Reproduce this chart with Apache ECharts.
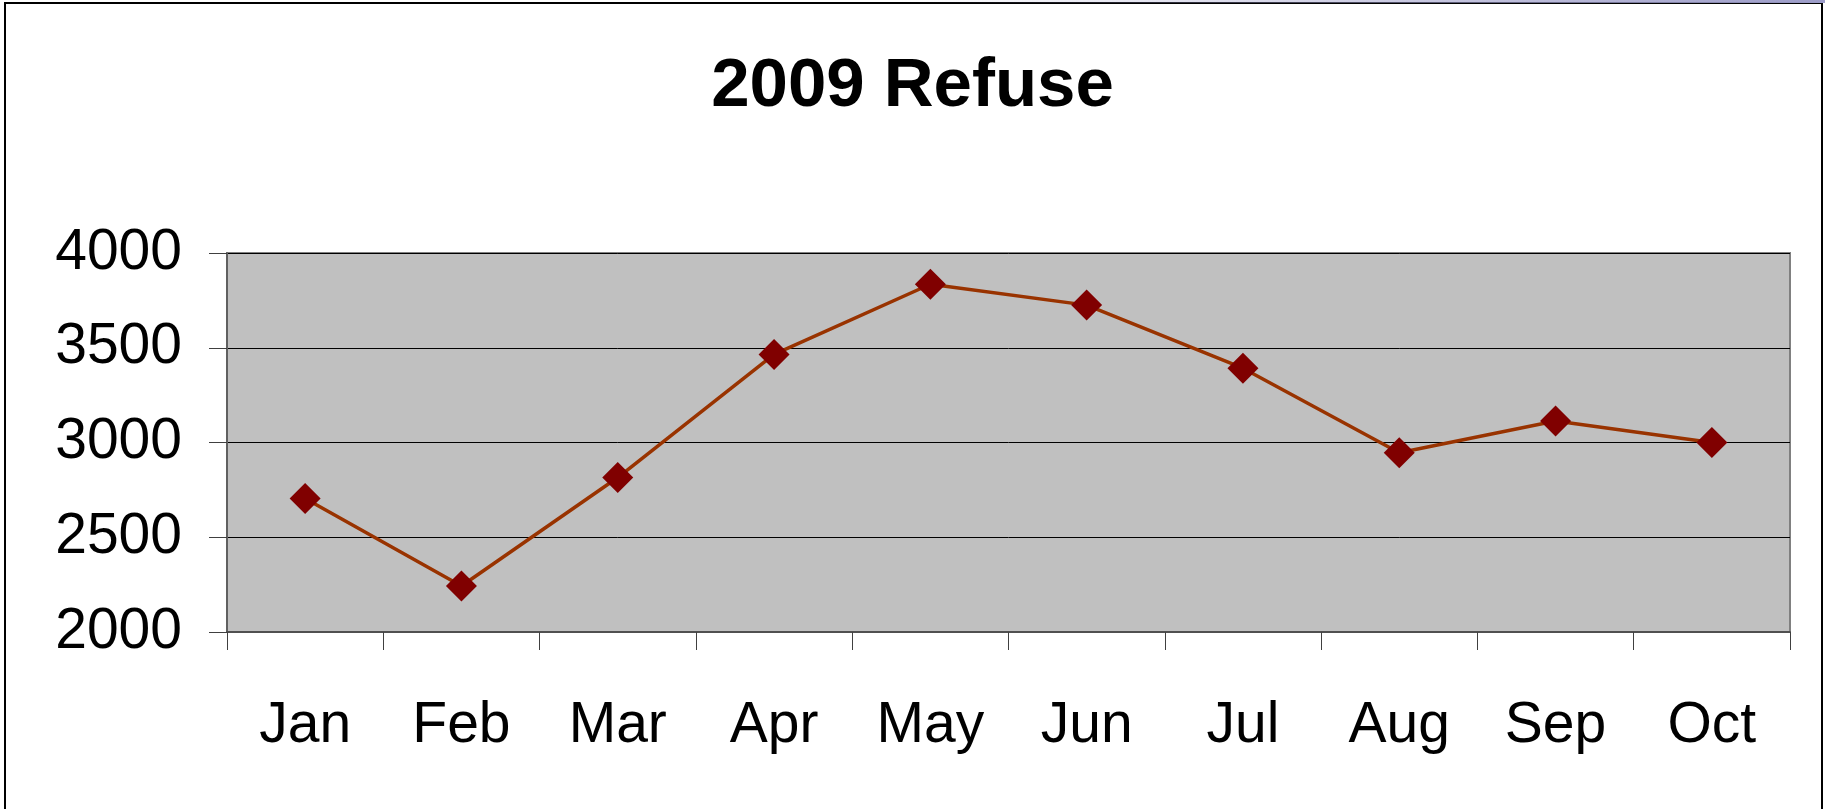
<!DOCTYPE html>
<html>
<head>
<meta charset="utf-8">
<title>2009 Refuse</title>
<script src="https://cdn.jsdelivr.net/npm/echarts@6/dist/echarts.min.js"></script>
<style>
  html, body {
    margin: 0;
    padding: 0;
    background: #fff;
  }

  .wrap {
    position: relative;
    width: 1825px;
    height: 809px;
    overflow: hidden;
  }

  #main {
    width: 1825px;
    height: 809px;
  }

  .frame {
    position: absolute;
    left: 4px;
    top: 2px;
    width: 1815px;
    height: 900px;
    border: 2px solid #000;
    pointer-events: none;
  }

  .top-band {
    position: absolute;
    left: 900px;
    top: 0;
    width: 925px;
    height: 3px;
    background: linear-gradient(to right, rgba(153, 153, 204, 0), #9c9cc8);
  }
</style>
</head>
<body>
<div class="wrap">
  <div id="main"></div>
  <div class="frame"></div>
  <div class="top-band"></div>
</div>
<script>
  // data
  const months = ['Jan', 'Feb', 'Mar', 'Apr', 'May', 'Jun', 'Jul', 'Aug', 'Sep', 'Oct'];
  const refuse = [2705, 2243, 2815, 3465, 3835, 3725, 3392, 2946, 3113, 3000];
  const yTicks = [2000, 2500, 3000, 3500, 4000];

  const myChart = echarts.init(document.querySelector('#main'));

  myChart.setOption({
    animation: false,
    title: {
      text: '2009 Refuse',
      left: 'center',
      top: 47,
      textStyle: {
        fontFamily: 'Liberation Sans, Arial',
        fontSize: 69,
        fontWeight: 'bold',
        color: '#000'
      }
    },
    grid: {
      left: 227,
      right: 35,
      top: 253,
      bottom: 177,
      show: true,
      backgroundColor: '#C0C0C0',
      borderColor: '#808080',
      borderWidth: 2
    },
    xAxis: {
      type: 'category',
      data: months,
      boundaryGap: true,
      axisLine: {
        show: true,
        lineStyle: { color: '#505050', width: 2 }
      },
      axisTick: {
        show: true,
        length: 18,
        lineStyle: { color: '#404040', width: 1 }
      },
      axisLabel: {
        margin: 66,
        fontFamily: 'Liberation Sans, Arial',
        fontSize: 57,
        color: '#000'
      }
    },
    yAxis: {
      type: 'value',
      min: yTicks[0],
      max: yTicks[yTicks.length - 1],
      interval: yTicks[1] - yTicks[0],
      axisLine: {
        show: true,
        lineStyle: { color: '#606060', width: 2 }
      },
      axisTick: {
        show: true,
        length: 18,
        lineStyle: { color: '#404040', width: 1 }
      },
      axisLabel: {
        margin: 45,
        fontFamily: 'Liberation Sans, Arial',
        fontSize: 57,
        color: '#000',
        formatter: function (v) {
          return String(v);
        }
      },
      splitLine: {
        show: true,
        lineStyle: { color: '#000', width: 1 }
      }
    },
    series: [{
      name: '2009 Refuse',
      type: 'line',
      data: refuse,
      symbol: 'diamond',
      symbolSize: 31,
      itemStyle: { color: '#800000' },
      lineStyle: { color: '#993300', width: 3.5 }
    }]
  });
</script>
</body>
</html>
